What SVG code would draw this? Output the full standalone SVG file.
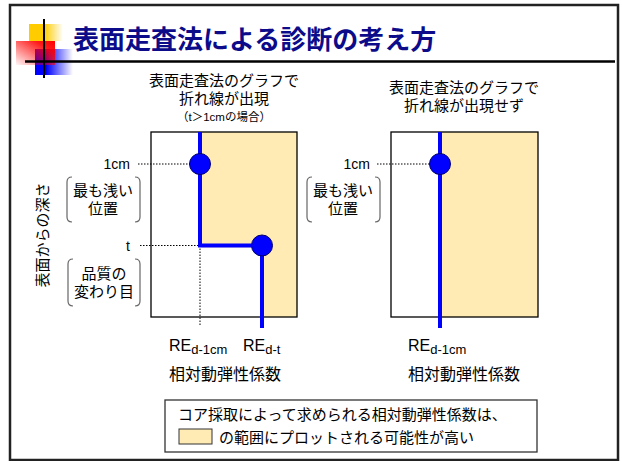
<svg xmlns="http://www.w3.org/2000/svg" width="622" height="461" viewBox="0 0 622 461">
<defs>
<linearGradient id="gY" x1="0" y1="0" x2="1" y2="0"><stop offset="0" stop-color="#FFCC00"/><stop offset="0.45" stop-color="#FFCC00"/><stop offset="1" stop-color="#FFCC00" stop-opacity="0"/></linearGradient>
<linearGradient id="gB" x1="0" y1="0" x2="1" y2="0"><stop offset="0" stop-color="#0000FF"/><stop offset="0.3" stop-color="#0000FF"/><stop offset="1" stop-color="#0000FF" stop-opacity="0"/></linearGradient>
<linearGradient id="gR" x1="1" y1="0" x2="0" y2="1"><stop offset="0" stop-color="#FF0000"/><stop offset="0.25" stop-color="#FF0000" stop-opacity="0.9"/><stop offset="1" stop-color="#FF0000" stop-opacity="0.03"/></linearGradient>
</defs>
<style>
text{font-family:"Liberation Sans","Noto Sans CJK JP",sans-serif;fill:#000}
.t15{font-size:15px}
.t13{font-size:13px}
.t14{font-size:14px}
.t16{font-size:16px}
.mid{text-anchor:middle}
.end{text-anchor:end}
.beige{fill:#FFEBB3}
.frame{fill:none;stroke:#000;stroke-width:1.3}
.blue{fill:none;stroke:#0000FF;stroke-width:4}
.dot{fill:none;stroke:#000;stroke-width:1;stroke-dasharray:1.5 1.5}
.dotc{fill:#0000FF;stroke:#00006e;stroke-width:1}
.br{fill:none;stroke:#666;stroke-width:1.2}
</style>
<rect width="622" height="461" fill="#fff"/>
<rect x="10" y="5" width="608" height="455" fill="none" stroke="#222" stroke-width="2.5"/>
<g id="logo">
<rect x="29" y="24" width="34" height="17" fill="url(#gY)"/>
<rect x="35" y="49" width="38" height="26" fill="url(#gB)"/>
<rect x="16" y="41" width="39" height="24" fill="url(#gR)"/>
<line x1="44" y1="19" x2="44" y2="78" stroke="#000" stroke-width="2"/>
</g>
<line x1="25" y1="61.5" x2="615" y2="61.5" stroke="#000" stroke-width="2.5"/>
<text id="title" x="73" y="49" style="font-size:26px;font-weight:bold;fill:#0c0c8a">表面走査法による診断の考え方</text>

<g id="axis-label">
<text class="t15 mid" transform="translate(48,235) rotate(-90)">表面からの深さ</text>
</g>

<g id="chart-left">
<text class="t15 mid" x="224" y="86">表面走査法のグラフで</text>
<text class="t15 mid" x="224" y="104">折れ線が出現</text>
<text class="mid" x="224" y="121" style="font-size:11.5px">（t＞1cmの場合）</text>
<rect x="151" y="132" width="146" height="185" fill="#fff"/>
<polygon class="beige" points="202,132 297,132 297,317 264,317 264,247.5 202,247.5"/>
<rect class="frame" x="151" y="132" width="146" height="185"/>
<text class="t14 end" x="130" y="169">1cm</text>
<text class="t14 end" x="130" y="251">t</text>
<g id="bracket-left-1">
<path class="br" d="M72,177 Q67,177 67,182 V217 Q67,222 72,222 M135,177 Q140,177 140,182 V217 Q140,222 135,222"/>
<text class="t15 mid" x="103" y="196">最も浅い</text>
<text class="t15 mid" x="103" y="214">位置</text>
</g>
<g id="bracket-left-2">
<path class="br" d="M73,259 Q68,259 68,264 V301 Q68,306 73,306 M135,259 Q140,259 140,264 V301 Q140,306 135,306"/>
<text class="t15 mid" x="104" y="279">品質の</text>
<text class="t15 mid" x="104" y="297">変わり目</text>
</g>
<text class="t16" x="169" y="351">RE<tspan class="t13" dy="3">d-1cm</tspan></text>
<text class="t16" x="243" y="351">RE<tspan class="t13" dy="3">d-t</tspan></text>
<text class="t16 mid" x="225" y="380">相対動弾性係数</text>
</g>

<g id="chart-right">
<text class="t15 mid" x="464" y="93">表面走査法のグラフで</text>
<text class="t15 mid" x="464" y="111">折れ線が出現せず</text>
<rect x="391" y="132" width="147" height="185" fill="#fff"/>
<rect class="beige" x="442" y="132" width="96" height="185"/>
<rect class="frame" x="391" y="132" width="147" height="185"/>
<text class="t14 end" x="370" y="169">1cm</text>
<g id="bracket-right-1">
<path class="br" d="M312,177 Q307,177 307,182 V217 Q307,222 312,222 M375,177 Q380,177 380,182 V217 Q380,222 375,222"/>
<text class="t15 mid" x="343" y="196">最も浅い</text>
<text class="t15 mid" x="343" y="214">位置</text>
</g>
<text class="t16" x="408" y="351">RE<tspan class="t13" dy="3">d-1cm</tspan></text>
<text class="t16 mid" x="464" y="380">相対動弾性係数</text>
</g>

<g id="connectors">
<path class="dot" d="M138,164 H190 M140,245.5 H200 M200,245.5 V326 M377,164 H430"/>
<path class="blue" d="M200,132 V245.5 H262 V328"/>
<path class="blue" d="M440,132 V328"/>
<circle class="dotc" cx="200" cy="164" r="10.5"/>
<circle class="dotc" cx="262" cy="245.5" r="10.5"/>
<circle class="dotc" cx="440" cy="164" r="10.5"/>
</g>

<g id="note">
<rect x="165" y="400" width="372" height="52" fill="#fff" stroke="#333" stroke-width="1.3"/>
<text class="t15" x="178" y="420">コア採取によって求められる相対動弾性係数は、</text>
<rect class="beige" x="179" y="429" width="33" height="15" stroke="#333" stroke-width="1"/>
<text class="t15" x="219" y="443">の範囲にプロットされる可能性が高い</text>
</g>
</svg>
